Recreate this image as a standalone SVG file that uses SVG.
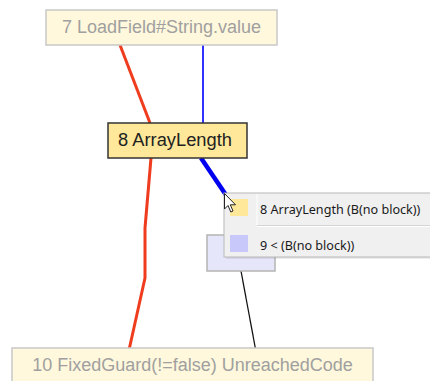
<svg xmlns="http://www.w3.org/2000/svg" width="430" height="381" viewBox="0 0 430 381">
  <style>
    .faded rect { fill: #fff8dc; stroke: #c8c8c8; stroke-width: 1.5; }
    .faded text { fill: #a0a0a0; font-family: "Liberation Sans", Arial, sans-serif; font-size: 18px; text-anchor: middle; }
    .sel rect { fill: #ffe89a; stroke: #333; stroke-width: 1.5; }
    .sel text { fill: #222; font-family: "Liberation Sans", Arial, sans-serif; font-size: 18.3px; text-anchor: middle; }
    .tip text { fill: #1a1a1a; font-family: "Noto Sans", "Open Sans", sans-serif; font-size: 12.6px; }
    .edge { fill: none; stroke-linejoin: round; }
  </style>
  <rect width="430" height="381" fill="#fff"/>

  <g id="edges">
    <polyline class="edge" points="120,45 150,123" stroke="#f03c1e" stroke-width="3"/>
    <line class="edge" x1="203" y1="45" x2="203" y2="123" stroke="#3030ff" stroke-width="2"/>
    <polyline class="edge" points="151,158 145,228 145,278 129,350" stroke="#f03c1e" stroke-width="3"/>
    <line class="edge" x1="201" y1="158" x2="226" y2="195" stroke="#0000f0" stroke-width="4.5"/>
    <line class="edge" x1="241" y1="271" x2="255.5" y2="349" stroke="#111" stroke-width="1.3"/>
  </g>

  <g id="node7" class="faded">
    <rect x="46" y="10" width="231" height="35"/>
    <text x="161.5" y="32.5">7 LoadField#String.value</text>
  </g>

  <g id="node8" class="sel">
    <rect x="108" y="123" width="139" height="35"/>
    <text x="175" y="146">8 ArrayLength</text>
  </g>

  <g id="node9">
    <rect x="207" y="235" width="68" height="36" fill="#e6e6fa" stroke="#b4b4b4" stroke-width="1.5"/>
  </g>

  <g id="node10" class="faded">
    <rect x="12" y="348" width="361" height="40"/>
    <text x="192.5" y="370.5">10 FixedGuard(!=false) UnreachedCode</text>
  </g>

  <!-- hover popup -->
  <g id="popup" class="tip">
    <rect x="226" y="195" width="210" height="64" fill="#000" opacity="0.08"/>
    <rect x="224" y="193" width="210" height="64" fill="#f0f0f0" stroke="#b8b8b8" stroke-width="1"/>
    <line x1="257" y1="194" x2="257" y2="225" stroke="#fff" stroke-width="1"/>
    <line x1="257" y1="225.5" x2="430" y2="225.5" stroke="#d4d4d4" stroke-width="1"/>
    <line x1="257" y1="226.5" x2="430" y2="226.5" stroke="#fff" stroke-width="1"/>
    <rect x="230" y="199" width="18" height="17" fill="#ffe89a"/>
    <text x="260" y="213.5">8 ArrayLength (B(no block))</text>
    <rect x="230" y="235" width="18" height="17" fill="#c8c8fa"/>
    <text x="260" y="249.5">9 &lt; (B(no block))</text>
  </g>

  <!-- mouse pointer -->
  <path d="M224.5,193.5 L224.5,209 L228,205.5 L230.8,212 L233,211 L230.3,204.8 L235.5,204.8 Z" fill="#fff" stroke="#222" stroke-width="1" stroke-linejoin="round"/>
</svg>
